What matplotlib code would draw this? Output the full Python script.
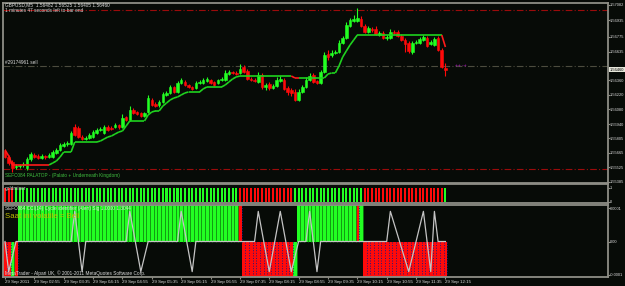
import numpy as np
import matplotlib
matplotlib.use('Agg')
import matplotlib.pyplot as plt
from matplotlib.collections import LineCollection
from matplotlib import transforms

plt.rcParams['font.family'] = ['Liberation Sans', 'DejaVu Sans']

# --- GBPUSD M5 candles, 29 Sep 2011 02:15 .. 12:15 ---
opens = [1.55682, 1.55624, 1.55576, 1.55528, 1.55538, 1.55548, 1.55519, 1.55605, 1.55644, 1.55634,
         1.55615, 1.55634, 1.55624, 1.55624, 1.55663, 1.55692, 1.55730, 1.55749, 1.55749, 1.55912,
         1.55903, 1.55816, 1.55797, 1.55807, 1.55816, 1.55855, 1.55883, 1.55855, 1.55912, 1.55903,
         1.55912, 1.55931, 1.55912, 1.56008, 1.55979, 1.56075, 1.56056, 1.56046, 1.56018, 1.56056,
         1.56171, 1.56133, 1.56123, 1.56152, 1.56219, 1.56238, 1.56296, 1.56248, 1.56334, 1.56344,
         1.56315, 1.56296, 1.56286, 1.56334, 1.56334, 1.56353, 1.56363, 1.56344, 1.56334, 1.56363,
         1.56363, 1.56420, 1.56440, 1.56430, 1.56430, 1.56487, 1.56449, 1.56372, 1.56363, 1.56344,
         1.56411, 1.56296, 1.56324, 1.56286, 1.56305, 1.56353, 1.56363, 1.56286, 1.56267, 1.56248,
         1.56171, 1.56248, 1.56296, 1.56363, 1.56411, 1.56353, 1.56334, 1.56440, 1.56612, 1.56603,
         1.56622, 1.56631, 1.56718, 1.56766, 1.56881, 1.56929, 1.56929, 1.56948, 1.56881, 1.56823,
         1.56852, 1.56852, 1.56794, 1.56814, 1.56766, 1.56766, 1.56823, 1.56823, 1.56785, 1.56746,
         1.56718, 1.56631, 1.56718, 1.56718, 1.56746, 1.56766, 1.56708, 1.56698, 1.56766, 1.56650,
         1.56482]
closes = [1.55624, 1.55567, 1.55519, 1.55538, 1.55548, 1.55557, 1.55605, 1.55653, 1.55624, 1.55615,
          1.55634, 1.55624, 1.55644, 1.55672, 1.55692, 1.55739, 1.55749, 1.55759, 1.55855, 1.55835,
          1.55816, 1.55797, 1.55807, 1.55835, 1.55864, 1.55883, 1.55893, 1.55912, 1.55883, 1.55893,
          1.55931, 1.55912, 1.55998, 1.55979, 1.56075, 1.56046, 1.56037, 1.56018, 1.56046, 1.56190,
          1.56123, 1.56113, 1.56152, 1.56229, 1.56238, 1.56296, 1.56248, 1.56334, 1.56363, 1.56315,
          1.56296, 1.56277, 1.56334, 1.56344, 1.56363, 1.56372, 1.56334, 1.56315, 1.56363, 1.56372,
          1.56430, 1.56440, 1.56430, 1.56420, 1.56468, 1.56440, 1.56372, 1.56363, 1.56353, 1.56411,
          1.56296, 1.56315, 1.56286, 1.56305, 1.56363, 1.56372, 1.56277, 1.56248, 1.56238, 1.56171,
          1.56248, 1.56296, 1.56363, 1.56401, 1.56344, 1.56334, 1.56440, 1.56603, 1.56583, 1.56622,
          1.56631, 1.56718, 1.56766, 1.56890, 1.56938, 1.56948, 1.56957, 1.56881, 1.56823, 1.56862,
          1.56842, 1.56804, 1.56814, 1.56766, 1.56775, 1.56823, 1.56814, 1.56785, 1.56746, 1.56708,
          1.56641, 1.56718, 1.56727, 1.56756, 1.56775, 1.56689, 1.56727, 1.56756, 1.56650, 1.56487,
          1.56460]
highs = [1.55701, 1.55644, 1.55596, 1.55557, 1.55557, 1.55576, 1.55624, 1.55672, 1.55663, 1.55653,
         1.55653, 1.55644, 1.55663, 1.55692, 1.55711, 1.55759, 1.55768, 1.55778, 1.55874, 1.55941,
         1.55922, 1.55835, 1.55826, 1.55855, 1.55883, 1.55903, 1.55912, 1.55931, 1.55931, 1.55922,
         1.55950, 1.55941, 1.56037, 1.56018, 1.56113, 1.56094, 1.56066, 1.56056, 1.56056, 1.56219,
         1.56190, 1.56152, 1.56171, 1.56248, 1.56257, 1.56315, 1.56305, 1.56353, 1.56382, 1.56363,
         1.56324, 1.56305, 1.56353, 1.56363, 1.56382, 1.56392, 1.56372, 1.56353, 1.56372, 1.56392,
         1.56459, 1.56459, 1.56449, 1.56449, 1.56516, 1.56507, 1.56468, 1.56392, 1.56382, 1.56440,
         1.56430, 1.56334, 1.56344, 1.56324, 1.56392, 1.56401, 1.56382, 1.56305, 1.56286, 1.56277,
         1.56277, 1.56315, 1.56392, 1.56430, 1.56430, 1.56363, 1.56459, 1.56631, 1.56650, 1.56650,
         1.56650, 1.56746, 1.56785, 1.56919, 1.56957, 1.56986, 1.57053, 1.56977, 1.56900, 1.56881,
         1.56871, 1.56881, 1.56833, 1.56833, 1.56794, 1.56852, 1.56842, 1.56842, 1.56804, 1.56766,
         1.56737, 1.56737, 1.56746, 1.56775, 1.56794, 1.56785, 1.56746, 1.56775, 1.56785, 1.56670,
         1.56525]
lows = [1.55615, 1.55548, 1.55480, 1.55509, 1.55519, 1.55528, 1.55500, 1.55586, 1.55615, 1.55605,
        1.55605, 1.55605, 1.55615, 1.55615, 1.55653, 1.55682, 1.55720, 1.55730, 1.55739, 1.55826,
        1.55807, 1.55787, 1.55787, 1.55797, 1.55807, 1.55845, 1.55874, 1.55845, 1.55874, 1.55883,
        1.55903, 1.55893, 1.55903, 1.55970, 1.55970, 1.56037, 1.56027, 1.56008, 1.56008, 1.56046,
        1.56113, 1.56104, 1.56104, 1.56142, 1.56209, 1.56229, 1.56238, 1.56238, 1.56324, 1.56305,
        1.56286, 1.56267, 1.56277, 1.56324, 1.56324, 1.56344, 1.56324, 1.56305, 1.56324, 1.56353,
        1.56353, 1.56411, 1.56420, 1.56411, 1.56420, 1.56430, 1.56363, 1.56353, 1.56344, 1.56334,
        1.56277, 1.56267, 1.56267, 1.56277, 1.56296, 1.56344, 1.56267, 1.56219, 1.56209, 1.56161,
        1.56161, 1.56238, 1.56286, 1.56353, 1.56334, 1.56324, 1.56324, 1.56430, 1.56555, 1.56583,
        1.56612, 1.56622, 1.56708, 1.56756, 1.56871, 1.56919, 1.56919, 1.56871, 1.56814, 1.56814,
        1.56823, 1.56794, 1.56785, 1.56756, 1.56746, 1.56756, 1.56804, 1.56775, 1.56737, 1.56631,
        1.56622, 1.56612, 1.56708, 1.56708, 1.56737, 1.56679, 1.56698, 1.56689, 1.56641, 1.56478,
        1.56405]

# trailing stop line (PALATOP), and its colour per bar (R = sell, G = buy)
stop_line = [1.55692, 1.55634] + [1.55548] * 11 + [1.55567, 1.55586, 1.55624, 1.55672, 1.55672, 1.55672] \
    + [1.55768] * 7 + [1.55778, 1.55797, 1.55816, 1.55826, 1.55845, 1.55864, 1.55874, 1.55922] \
    + [1.55970] * 5 + [1.56027, 1.56056, 1.56066, 1.56066, 1.56113, 1.56142, 1.56171, 1.56190, 1.56200,
                       1.56219, 1.56238, 1.56248, 1.56248, 1.56248, 1.56248, 1.56277] \
    + [1.56296] * 5 + [1.56315, 1.56344, 1.56372, 1.56392] + [1.56401] * 15 + [1.56382] * 9 \
    + [1.56420, 1.56430, 1.56430, 1.56497, 1.56583, 1.56641, 1.56698, 1.56746] + [1.56794] * 24 + [1.56679]
stop_state = 'R' * 13 + 'G' * 66 + 'RR' + 'G' * 39 + 'R'

# goldminer histogram colours per bar
gold_state = 'R' * 3 + 'G' * 61 + 'R' * 15 + 'G' * 19 + 'R' * 22 + 'G'

# SEFC histogram: G green up, g green down, R red down, r red up
sefc_state = 'RRgR' + 'G' * 60 + 'r' + 'R' * 14 + 'g' + 'G' * 16 + 'r' + 'G' + 'R' * 23
sefc_level = 0.00011
# white signal line vertices (bar index, value in 1e-4)
sig_idx = [0, 1, 3, 18, 19, 21, 22, 33, 34, 37, 39, 47, 48, 51, 52, 68, 69, 72, 75, 78, 80, 82, 83, 85, 86,
           104, 105, 110, 114, 116, 117, 118, 120]
sig_val = [0, -0.9, 0, 0, 0.9, -0.9, 0, 0, 0.9, -0.9, 0, 0, 0.9, -0.9, 0, 0, 0.9, -0.9, 0.9, -0.9, 0, 0, 0.9,
           -0.9, 0, 0, 0.9, -0.9, 0.9, -0.9, 0.9, 0, 0]

price_ticks = [1.57082, 1.56935, 1.56775, 1.56635, 1.56360, 1.56220, 1.56080, 1.55940,
               1.55805, 1.55665, 1.55525, 1.55385]
time_idx = [0, 8, 16, 24, 32, 40, 48, 56, 64, 72, 80, 88, 96, 104, 112, 120]
time_lbl = ['29 Sep 2011', '29 Sep 02:55', '29 Sep 03:35', '29 Sep 04:15', '29 Sep 04:55', '29 Sep 05:35',
            '29 Sep 06:15', '29 Sep 06:55', '29 Sep 07:35', '29 Sep 08:15', '29 Sep 08:55', '29 Sep 09:35',
            '29 Sep 10:15', '29 Sep 10:55', '29 Sep 11:35', '29 Sep 12:15']
stop_loss = 1.57034
take_profit = 1.55509
order_price = 1.56497
bid = 1.56460

BG = '#070b07'
FRAME = '#8e8e86'
TXT = '#dcdcdc'
LIME = '#22ff22'
RED = '#ff0a0a'
FS = 3.4
AFS = 2.9
W, H = 625, 286

fig = plt.figure(figsize=(W / 100, H / 100), dpi=100, facecolor=BG)
ax = fig.add_axes([3 / W, 1 - 183 / H, 605 / W, 180 / H])
ax1 = fig.add_axes([3 / W, 1 - 203 / H, 605 / W, 19 / H])
ax2 = fig.add_axes([3 / W, 1 - 277 / H, 605 / W, 72 / H])

n = len(opens)
idx = np.arange(n)
for a in (ax, ax1, ax2):
    a.set_facecolor(BG)
    a.set_xlim(-0.55, 164.3)
    for s in a.spines.values():
        s.set_color(FRAME)
        s.set_linewidth(1.3)
    a.yaxis.tick_right()
    a.tick_params(axis='y', colors=FRAME, labelcolor=TXT, labelsize=AFS, length=1.2, pad=0.3)
    a.tick_params(axis='x', bottom=False, labelbottom=False)

# --- main price panel ---
o = np.array(opens); c = np.array(closes)
up = c >= o
col = np.where(up, LIME, RED)
ax.vlines(idx, lows, highs, colors=col, lw=0.8, zorder=3)
ax.bar(idx, c - o, bottom=o, width=0.7, color=col, edgecolor=col, lw=0.4, zorder=4)

pts = np.column_stack([idx, stop_line])
segs = [pts[i - 1:i + 1] for i in range(1, n)]
seg_col = ['#ff1a1a' if stop_state[i] == 'R' else '#1fd21f' for i in range(1, n)]
ax.add_collection(LineCollection(segs, colors=seg_col, linewidths=1.2, zorder=5))

ax.axhline(stop_loss, color='#9b0b0b', lw=0.8, ls=(0, (6, 2, 1, 2)), zorder=2)
ax.axhline(take_profit, color='#9b0b0b', lw=0.8, ls=(0, (6, 2, 1, 2)), zorder=2)
ax.axhline(order_price, color='#4c4c3e', lw=0.8, ls=(0, (6, 2, 1, 2)), zorder=2)

ax.set_ylim(1.55375, 1.57101)
ax.set_yticks(price_ticks)
ax.set_yticklabels(['%.5f' % v for v in price_ticks])
tr = transforms.blended_transform_factory(ax.transAxes, ax.transData)
ax.text(1.003, bid, '%.5f' % bid, transform=tr, fontsize=AFS, color='black', va='center', ha='left',
        bbox=dict(fc='#e6e6da', ec='none', pad=0.3), zorder=10)
ax.text(122.5, order_price, '++ -+', fontsize=3.4, color='#b020c0', va='center', ha='left')

# --- goldminer panel ---
g_col = [LIME if s == 'G' else RED for s in gold_state]
ax1.bar(idx, np.ones(n), width=0.55, color=g_col, lw=0)
ax1.set_ylim(-0.1, 1.25)
ax1.set_yticks([1, 0])
ax1.set_yticklabels(['1', '0'])

# --- SEFC panel ---
vals = np.array([sefc_level if s in 'Gr' else -sefc_level for s in sefc_state])
s_col = [LIME if s in 'Gg' else RED for s in sefc_state]
ax2.bar(idx, vals, width=1.0, color=s_col, lw=0)
gm = np.array([s in 'Gg' for s in sefc_state])
ax2.vlines(idx[gm] + 0.5, 0, vals[gm], colors='#0f8a0f', lw=0.6)
ax2.vlines(idx[~gm] + 0.5, 0, vals[~gm], colors='#1a1a80', lw=0.7, linestyles=':')
ax2.plot(sig_idx, np.array(sig_val) * 1e-4, color='#c4c4c4', lw=0.9)
ax2.set_ylim(-0.000106, 0.000109)
ax2.set_yticks([0.0001, 0, -0.0001])
ax2.set_yticklabels(['0.0001', '0.00', '-0.0001'])
ax2.tick_params(axis='x', bottom=True, labelbottom=True, colors=FRAME, labelcolor=TXT,
                labelsize=3.15, length=1.5, pad=0.8)
ax2.set_xticks(time_idx)
ax2.set_xticklabels(time_lbl, ha='left')


def px(x, y):
    return x / W, 1 - y / H


fig.text(*px(5, 4.5), 'GBPUSD,M5  1.56482 1.56525 1.56405 1.56460', fontsize=FS, color=TXT, va='center')
fig.text(*px(5, 10), '1 minutes 47 seconds left to bar end', fontsize=FS, color=TXT, va='center')
fig.text(*px(5, 63), '#29174961 sell', fontsize=FS, color=TXT, va='center')
fig.text(*px(5, 176), 'SEFC084 PALATOP - (Palato + Underneath Kingdom)', fontsize=FS, color='#3fbf3f', va='center')
fig.text(*px(5, 188.5), 'goldminer', fontsize=FS, color=TXT, va='center')
fig.text(*px(5, 208.5), 'SEFC084 CCI(14) Cycle identifier (Alert) Sig 1.0000 1.3044', fontsize=FS, color=TXT,
         va='center')
fig.text(*px(5, 216.5), 'Saat ini volatile = Beli', fontsize=5.6, color='#c0c000', va='center')
fig.text(*px(5, 273), 'MetaTrader - Alpari UK, \u00a9 2001-2011 MetaQuotes Software Corp.', fontsize=FS,
         color=TXT, va='center')

fig.savefig('out.png', dpi=100, facecolor=BG)
